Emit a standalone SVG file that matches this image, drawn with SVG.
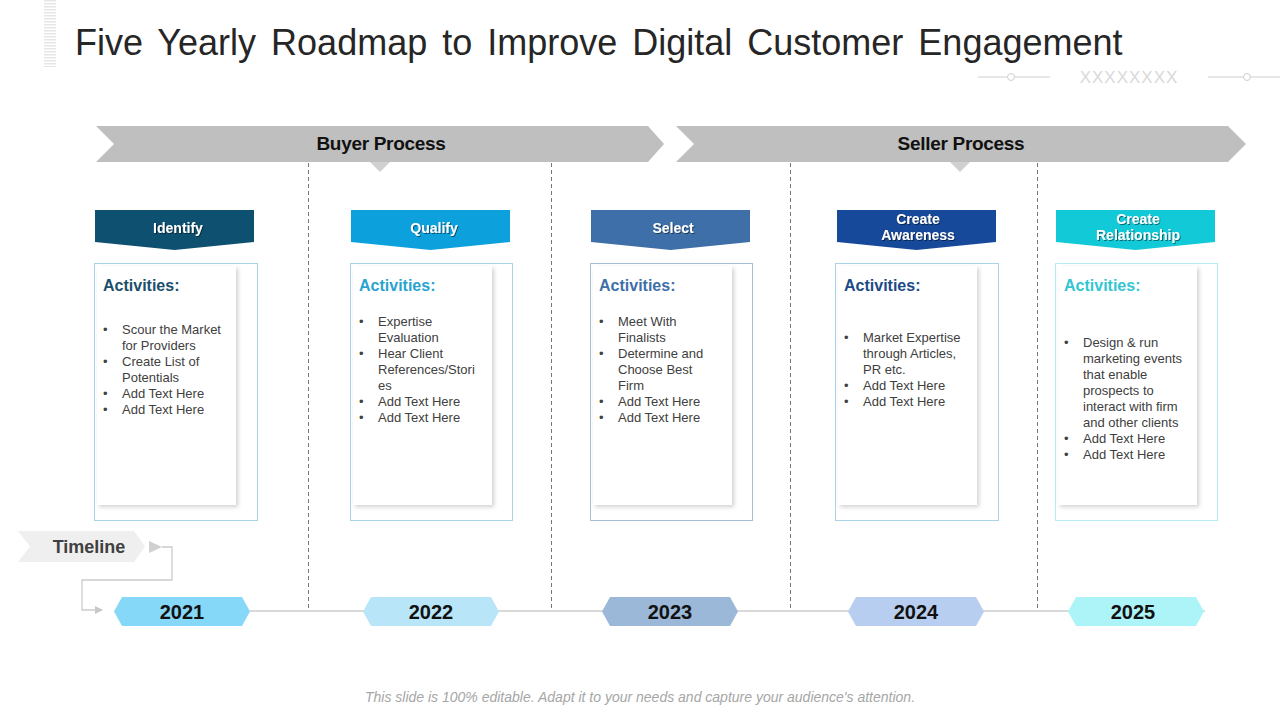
<svg xmlns="http://www.w3.org/2000/svg" width="1280" height="720" viewBox="0 0 1280 720">
<defs>
<filter id="sh" x="-10%" y="-10%" width="130%" height="130%">
<feDropShadow dx="2" dy="2" stdDeviation="2" flood-color="#000" flood-opacity="0.18"/>
</filter>
<filter id="ts" x="-10%" y="-20%" width="130%" height="150%">
<feDropShadow dx="1" dy="1" stdDeviation="0.6" flood-color="#000" flood-opacity="0.5"/>
</filter>
<marker id="arr" markerWidth="8" markerHeight="8" refX="7" refY="4" orient="auto" markerUnits="userSpaceOnUse">
<path d="M0,0 L8,4 L0,8 z" fill="#c8c8c8"/>
</marker>
<pattern id="stripes" width="12" height="3" patternUnits="userSpaceOnUse">
<rect width="12" height="1.5" fill="#e6e6e6"/>
</pattern>
</defs>
<style>
.title{font-family:"Liberation Sans",Arial,sans-serif;font-size:36px;fill:#262626;word-spacing:5px;}
.band{font-family:"Liberation Sans",Arial,sans-serif;font-size:19px;font-weight:bold;fill:#111;text-anchor:middle;}
.hdr{font-family:"Liberation Sans",Arial,sans-serif;font-size:14px;font-weight:bold;fill:#fff;text-anchor:middle;}
.act{font-family:"Liberation Sans",Arial,sans-serif;font-size:16px;font-weight:bold;}
.li{font-family:"Liberation Sans",Arial,sans-serif;font-size:13px;fill:#404040;}
.yr{font-family:"Liberation Sans",Arial,sans-serif;font-size:20px;font-weight:bold;fill:#111;text-anchor:middle;}
.outer{fill:#fff;stroke:#a9d3e6;stroke-width:1;}
.card{fill:#fff;filter:url(#sh);}
.dash{stroke:#777;stroke-width:1;stroke-dasharray:4,3;fill:none;}
.conn{stroke:#cccccc;stroke-width:1.3;fill:none;}
.foot{font-family:"Liberation Sans",Arial,sans-serif;font-size:14px;font-style:italic;fill:#a6a6a6;text-anchor:middle;}
</style>
<rect width="1280" height="720" fill="#fff"/>

<!-- top-left stripes -->
<rect x="44" y="0" width="12" height="67" fill="url(#stripes)"/>
<text class="title" x="75" y="55">Five Yearly Roadmap to Improve Digital Customer Engagement</text>

<!-- decoration top right -->
<g stroke="#cfcfcf" stroke-width="1" fill="none">
<line x1="978" y1="77" x2="1050" y2="77"/>
<circle cx="1011" cy="77" r="3.5" fill="#fff"/>
<line x1="1208" y1="77" x2="1280" y2="77"/>
<circle cx="1247" cy="77" r="3.5" fill="#fff"/>
</g>
<text x="1129" y="83" font-family="Liberation Sans,Arial,sans-serif" font-size="17" fill="#d9d9d9" text-anchor="middle" letter-spacing="1">XXXXXXXX</text>

<!-- process bands -->
<g id="buyer">
<polygon points="96,126 648,126 664,144 648,162 96,162 114,144" fill="#bfbfbf"/>
<polygon points="370,162 390,162 380,172" fill="#d0d0d0"/>
<text class="band" x="381" y="150" letter-spacing="-0.3">Buyer Process</text>
</g>
<g id="seller">
<polygon points="676,126 1228,126 1246,144 1228,162 676,162 694,144" fill="#bfbfbf"/>
<polygon points="950,162 970,162 960,172" fill="#d0d0d0"/>
<text class="band" x="961" y="150" letter-spacing="-0.3">Seller Process</text>
</g>

<!-- dashed separators -->
<g id="connectors">
<line class="dash" x1="308.5" y1="163" x2="308.5" y2="610"/>
<line class="dash" x1="551.5" y1="163" x2="551.5" y2="610"/>
<line class="dash" x1="790.5" y1="163" x2="790.5" y2="610"/>
<line class="dash" x1="1037.5" y1="163" x2="1037.5" y2="610"/>
<line class="conn" x1="250" y1="611" x2="1205" y2="611"/>
<polyline class="conn" points="162,547 172,547 172,580 82,580 82,610 102,610" marker-end="url(#arr)"/>
</g>

<!-- Identify -->
<g id="identify">
<polygon points="95,210 254,210 254,242 174.5,250 95,242" fill="#0e5070"/>
<text class="hdr" x="178" y="233" filter="url(#ts)">Identify</text>
<rect class="outer" x="94.5" y="263.5" width="163" height="257"/>
<rect class="card" x="97" y="266" width="139" height="239"/>
<text class="act" x="103" y="291" fill="#1b4f6b">Activities:</text>
<g class="li">
<text x="103" y="334">•</text><text x="122" y="334">Scour the Market</text>
<text x="122" y="350">for Providers</text>
<text x="103" y="366">•</text><text x="122" y="366">Create List of</text>
<text x="122" y="382">Potentials</text>
<text x="103" y="398">•</text><text x="122" y="398">Add Text Here</text>
<text x="103" y="414">•</text><text x="122" y="414">Add Text Here</text>
</g>
</g>

<!-- Qualify -->
<g id="qualify">
<polygon points="351,210 510,210 510,242 430.5,250 351,242" fill="#0ca0dc"/>
<text class="hdr" x="434" y="233" filter="url(#ts)">Qualify</text>
<rect class="outer" x="350.5" y="263.5" width="162" height="257"/>
<rect class="card" x="353" y="266" width="139" height="239"/>
<text class="act" x="359" y="291" fill="#2aa3d0">Activities:</text>
<g class="li">
<text x="359" y="326">•</text><text x="378" y="326">Expertise</text>
<text x="378" y="342">Evaluation</text>
<text x="359" y="358">•</text><text x="378" y="358">Hear Client</text>
<text x="378" y="374">References/Stori</text>
<text x="378" y="390">es</text>
<text x="359" y="406">•</text><text x="378" y="406">Add Text Here</text>
<text x="359" y="422">•</text><text x="378" y="422">Add Text Here</text>
</g>
</g>

<!-- Select -->
<g id="select">
<polygon points="591,210 750,210 750,242 670.5,250 591,242" fill="#3e6fa8"/>
<text class="hdr" x="673" y="233" filter="url(#ts)">Select</text>
<rect class="outer" x="590.5" y="263.5" width="162" height="257" style="stroke:#a8bdd6"/>
<rect class="card" x="593" y="266" width="139" height="239"/>
<text class="act" x="599" y="291" fill="#3e6fa8">Activities:</text>
<g class="li">
<text x="599" y="326">•</text><text x="618" y="326">Meet With</text>
<text x="618" y="342">Finalists</text>
<text x="599" y="358">•</text><text x="618" y="358">Determine  and</text>
<text x="618" y="374">Choose  Best</text>
<text x="618" y="390">Firm</text>
<text x="599" y="406">•</text><text x="618" y="406">Add Text Here</text>
<text x="599" y="422">•</text><text x="618" y="422">Add Text Here</text>
</g>
</g>

<!-- Create Awareness -->
<g id="awareness">
<polygon points="837,210 996,210 996,242 916.5,250 837,242" fill="#17499a"/>
<text class="hdr" x="918" y="224" filter="url(#ts)">Create</text>
<text class="hdr" x="918" y="240" filter="url(#ts)">Awareness</text>
<rect class="outer" x="835.5" y="263.5" width="163" height="257"/>
<rect class="card" x="838" y="266" width="139" height="239"/>
<text class="act" x="844" y="291" fill="#1c4a86">Activities:</text>
<g class="li">
<text x="844" y="342">•</text><text x="863" y="342">Market Expertise</text>
<text x="863" y="358">through Articles,</text>
<text x="863" y="374">PR etc.</text>
<text x="844" y="390">•</text><text x="863" y="390">Add Text Here</text>
<text x="844" y="406">•</text><text x="863" y="406">Add Text Here</text>
</g>
</g>

<!-- Create Relationship -->
<g id="relationship">
<polygon points="1056,210 1215,210 1215,242 1135.5,250 1056,242" fill="#12c9d8"/>
<text class="hdr" x="1138" y="224" filter="url(#ts)">Create</text>
<text class="hdr" x="1138" y="240" filter="url(#ts)">Relationship</text>
<rect class="outer" x="1055.5" y="263.5" width="162" height="257" style="stroke:#b6ecf2"/>
<rect class="card" x="1058" y="266" width="139" height="239"/>
<text class="act" x="1064" y="291" fill="#33c6d2">Activities:</text>
<g class="li">
<text x="1064" y="347">•</text><text x="1083" y="347">Design &amp; run</text>
<text x="1083" y="363">marketing events</text>
<text x="1083" y="379">that enable</text>
<text x="1083" y="395">prospects to</text>
<text x="1083" y="411">interact with firm</text>
<text x="1083" y="427">and other clients</text>
<text x="1064" y="443">•</text><text x="1083" y="443">Add Text Here</text>
<text x="1064" y="459">•</text><text x="1083" y="459">Add Text Here</text>
</g>
</g>

<!-- Timeline label -->
<g id="timeline">
<polygon points="18,531 134,531 145,546.5 134,562 18,562 30,546.5" fill="#efefef"/>
<text x="89" y="553" font-family="Liberation Sans,Arial,sans-serif" font-size="18" font-weight="bold" fill="#404040" text-anchor="middle">Timeline</text>
<polygon points="149,541 162,547 149,553" fill="#d0d0d0"/>
</g>

<!-- years -->
<g id="y2021">
<polygon points="122,597 242,597 250,611.5 242,626 122,626 114,611.5" fill="#86d8f8"/>
<text class="yr" x="182" y="619">2021</text>
</g>
<g id="y2022">
<polygon points="371,597 491,597 499,611.5 491,626 371,626 363,611.5" fill="#b8e6f8"/>
<text class="yr" x="431" y="619">2022</text>
</g>
<g id="y2023">
<polygon points="610,597 730,597 738,611.5 730,626 610,626 602,611.5" fill="#9bb8d8"/>
<text class="yr" x="670" y="619">2023</text>
</g>
<g id="y2024">
<polygon points="856,597 976,597 984,611.5 976,626 856,626 848,611.5" fill="#b8cef0"/>
<text class="yr" x="916" y="619">2024</text>
</g>
<g id="y2025">
<polygon points="1076,597 1196,597 1204,611.5 1196,626 1076,626 1068,611.5" fill="#adf4f9"/>
<text class="yr" x="1133" y="619">2025</text>
</g>

<text class="foot" x="640" y="702">This slide is 100% editable. Adapt it to your needs and capture your audience's attention.</text>
</svg>
